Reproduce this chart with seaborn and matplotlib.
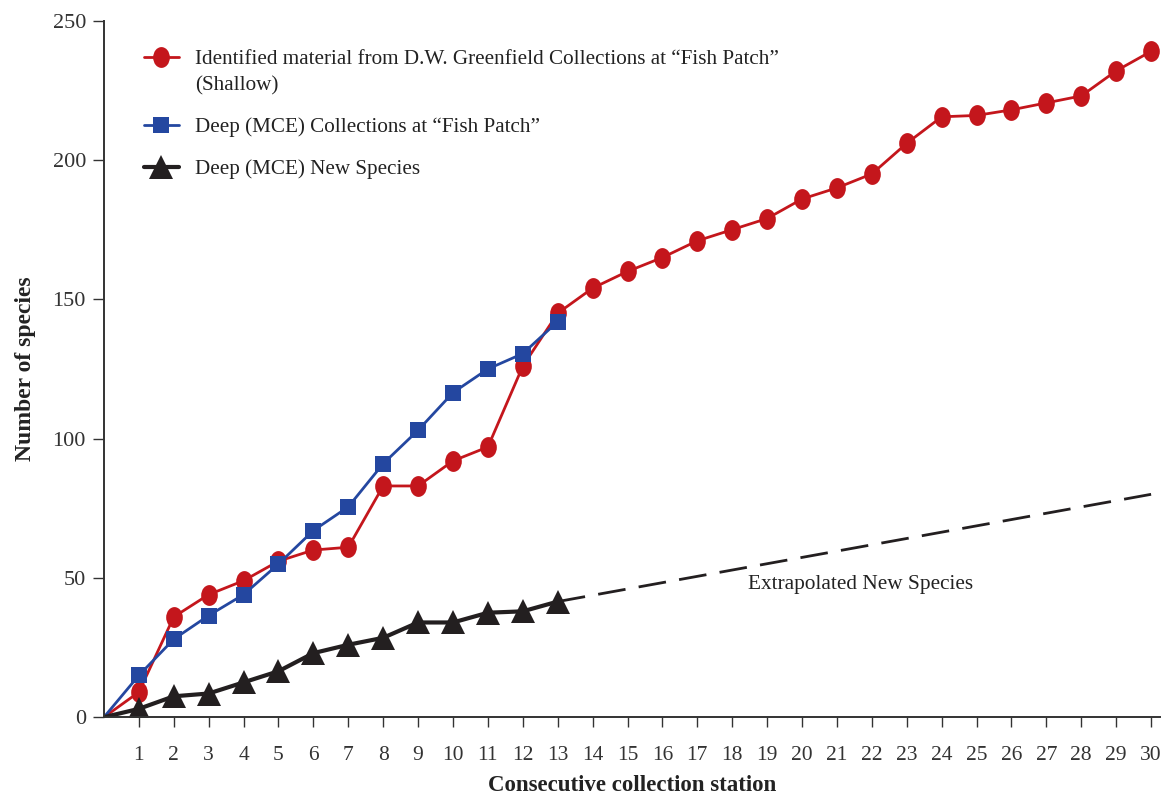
import matplotlib.pyplot as plt
import seaborn as sns
from matplotlib.legend_handler import HandlerLine2D
from matplotlib.path import Path
from matplotlib.transforms import Affine2D

# Cumulative species per consecutive collection station
shallow_station = list(range(0, 31))
shallow_species = [0, 9, 36, 44, 49, 56, 60, 61, 83, 83, 92, 97, 126, 145, 154,
                   160, 165, 171, 175, 179, 186, 190, 195, 206, 215.5, 216, 218,
                   220.5, 223, 232, 239]

deep_station = list(range(0, 14))
deep_species = [0, 15, 28, 36.5, 44, 55, 67, 75.5, 91, 103, 116.5, 125, 130.5, 142]

new_station = list(range(0, 14))
new_species = [0, 3, 7.5, 8.5, 12.5, 16.5, 23, 26, 28.5, 34, 34, 37.5, 38, 41.5]

extrap_station = [13, 30]
extrap_species = [41.5, 80]

station_ticks = list(range(1, 31))
species_ticks = [0, 50, 100, 150, 200, 250]

RED = "#c4161c"
BLUE = "#2447a0"
BLACK = "#231f20"

sns.set_style("ticks")
plt.rcParams["font.family"] = ["Liberation Serif", "DejaVu Serif"]
plt.rcParams["axes.edgecolor"] = "#333333"
plt.rcParams["xtick.color"] = "#333333"
plt.rcParams["ytick.color"] = "#333333"
plt.rcParams["text.color"] = "#222222"
plt.rcParams["axes.labelcolor"] = "#222222"

# vertically stretched dot, like the original
ellipse = Path.unit_circle().transformed(Affine2D().scale(0.8, 1.0))


class TopLineHandler(HandlerLine2D):
    """put the handle next to the first line of a two-line label"""

    def __init__(self, shift, **kw):
        super().__init__(**kw)
        self.shift = shift

    def create_artists(self, legend, orig_handle, xdescent, ydescent,
                       width, height, fontsize, trans):
        artists = super().create_artists(legend, orig_handle, xdescent, ydescent,
                                         width, height, fontsize, trans)
        for a in artists:
            a.set_ydata([y + self.shift for y in a.get_ydata()])
        return artists


fig, ax = plt.subplots(figsize=(11.68, 7.96), dpi=100)
fig.subplots_adjust(left=0.089, right=0.993, top=0.974, bottom=0.099)

sns.lineplot(x=shallow_station[1:], y=shallow_species[1:], ax=ax, color=RED,
             linewidth=2, marker=ellipse, markersize=15, markeredgewidth=0,
             sort=False,
             label="Identified material from D.W. Greenfield Collections at \u201cFish Patch\u201d\n(Shallow)")
sns.lineplot(x=deep_station[1:], y=deep_species[1:], ax=ax, color=BLUE,
             linewidth=2, marker="s", markersize=12, markeredgewidth=0,
             sort=False, label="Deep (MCE) Collections at \u201cFish Patch\u201d")
sns.lineplot(x=new_station[1:], y=new_species[1:], ax=ax, color=BLACK,
             linewidth=3, marker="^", markersize=17, markeredgewidth=0,
             sort=False, label="Deep (MCE) New Species")

# lines run from the origin, markers start at station 1
ax.plot(shallow_station[:2], shallow_species[:2], color=RED, linewidth=2, zorder=1)
ax.plot(deep_station[:2], deep_species[:2], color=BLUE, linewidth=2, zorder=1)
ax.plot(new_station[:2], new_species[:2], color=BLACK, linewidth=3, zorder=1)

sns.lineplot(x=extrap_station, y=extrap_species, ax=ax, color=BLACK,
             linewidth=2, dashes=False, linestyle=(0, (10, 4.8)), legend=False)
ax.text(18.45, 47.5, "Extrapolated New Species", fontsize=15.3,
        va="center", ha="left")

ax.set_xlim(0, 30.25)
ax.set_ylim(0, 250)
ax.set_xticks(station_ticks)
ax.set_yticks(species_ticks)
ax.tick_params(axis="x", length=7, width=1, pad=14, labelsize=15.5, direction="out")
ax.tick_params(axis="y", length=8, width=1, pad=5, labelsize=16, direction="out")
for side in ["top", "right"]:
    ax.spines[side].set_visible(False)
ax.spines["left"].set_linewidth(1.4)
ax.spines["bottom"].set_linewidth(1.4)

ax.set_xlabel("Consecutive collection station", fontsize=16.5, fontweight="bold",
              labelpad=7)
ax.set_ylabel("Number of species", fontsize=17, fontweight="bold", labelpad=12)

handles, labels = ax.get_legend_handles_labels()
leg = ax.legend(handles, labels, loc="upper left", bbox_to_anchor=(0.02, 0.985),
                frameon=False, fontsize=15.2, handlelength=1.65,
                handletextpad=0.75, labelspacing=1.05,
                handler_map={handles[0]: TopLineHandler(shift=11)})
leg.get_texts()[0].set_linespacing(1.5)

plt.savefig("out.png", dpi=100)
